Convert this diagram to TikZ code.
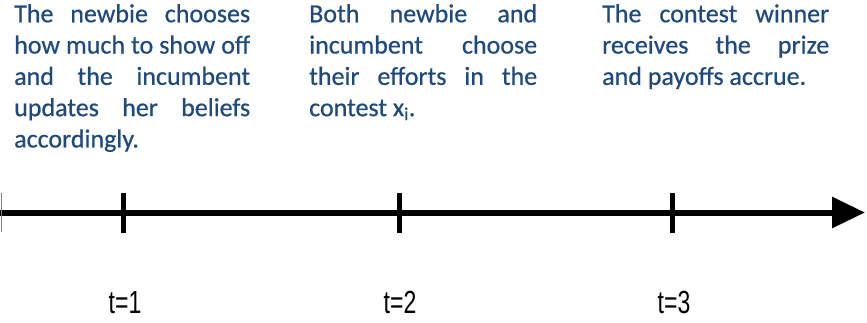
\documentclass[tikz,border=0pt]{standalone}
\usepackage{fontspec}
\setmainfont[FakeBold=0.6]{Carlito}
\newfontfamily\labfont[FakeStretch=0.72]{Liberation Sans}
\usetikzlibrary{arrows.meta}
\definecolor{txtblue}{HTML}{1F4A7E}
\hyphenpenalty=10000\relax
\exhyphenpenalty=10000\relax
\begin{document}
\begin{tikzpicture}[x=1pt,y=-1pt,
  desc/.style={anchor=north west, inner sep=0pt, align=justify, text=txtblue,
    font=\fontsize{26}{31.3}\selectfont},
  tlabel/.style={anchor=base, inner sep=0pt, font=\labfont\fontsize{32}{36}\selectfont},
  tickmark/.style={line width=5pt},
  axis/.style={line width=6pt, -{Triangle[length=33pt,width=30pt]}}]
\useasboundingbox (0,0) rectangle (867,322);
% descriptions
\node[desc, text width=236pt] (d1) at (14,4) {The newbie chooses\linebreak how much to show off\linebreak and the incumbent\linebreak updates her beliefs\linebreak accordingly.};
\node[desc, text width=228pt] (d2) at (309,4) {Both newbie and\linebreak incumbent choose\linebreak their efforts in the\linebreak contest x\textsubscript{i}.};
\node[desc, text width=227pt] (d3) at (602,4) {The contest winner\linebreak receives the prize\linebreak and payoffs accrue.};
% axis
\coordinate (axL) at (0,212.5);
\coordinate (axR) at (865,212.5);
\draw[axis] (axL) -- (axR);
\draw[gray, line width=1.5pt] (1.5,193) -- (1.5,232);
% ticks
\coordinate (t1) at (123,212.5);
\coordinate (t2) at (399,212.5);
\coordinate (t3) at (672,212.5);
\foreach \t in {t1,t2,t3}{
  \draw[tickmark] ([yshift=-20pt]\t) -- ([yshift=20pt]\t);
}
% labels
\node[tlabel] (l1) at (125,313) {t=1};
\node[tlabel] (l2) at (400,313) {t=2};
\node[tlabel] (l3) at (674,313) {t=3};
\end{tikzpicture}
\end{document}
